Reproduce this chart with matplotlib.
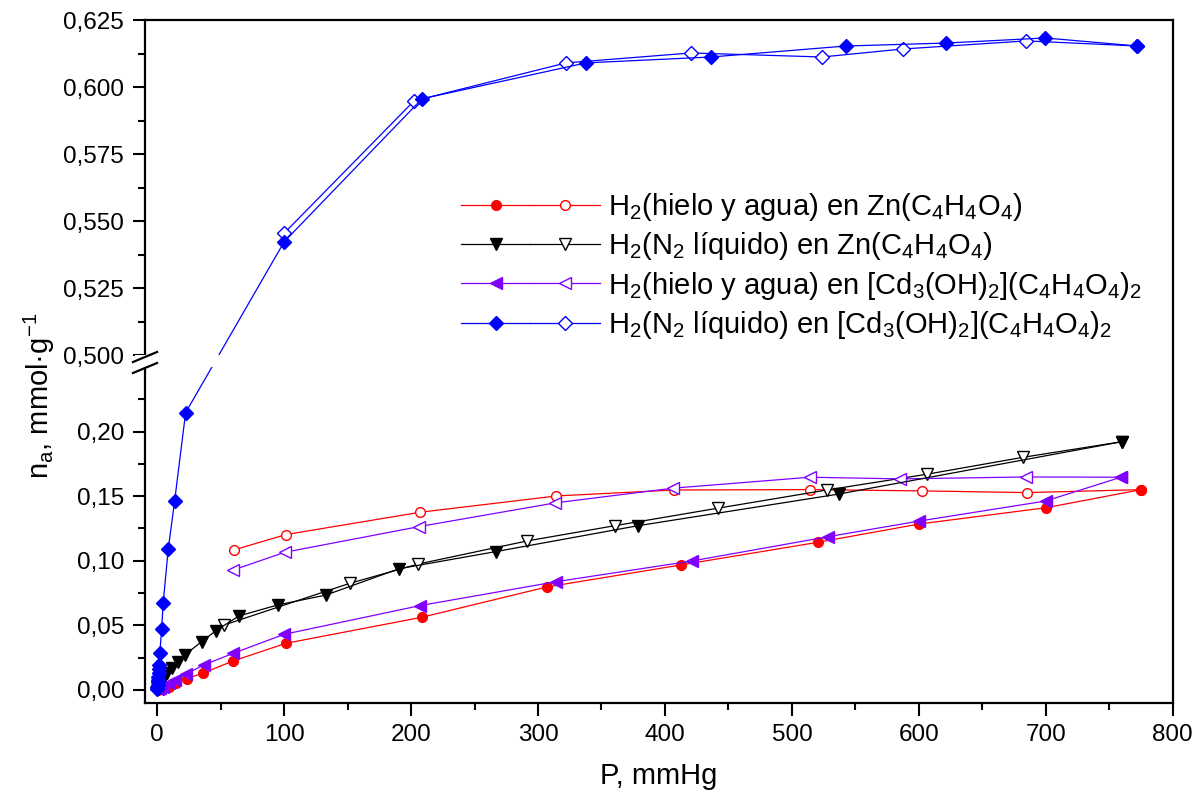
import numpy as np
import matplotlib
matplotlib.use("Agg")
import matplotlib.pyplot as plt
from matplotlib.lines import Line2D
from matplotlib.patches import Rectangle
from matplotlib.legend_handler import HandlerTuple
import matplotlib.transforms as mtransforms

plt.rcParams['font.family'] = ['Liberation Sans', 'DejaVu Sans']
plt.rcParams['mathtext.fontset'] = 'custom'
plt.rcParams['mathtext.rm'] = 'Liberation Sans'
plt.rcParams['mathtext.it'] = 'Liberation Sans:italic'
plt.rcParams['mathtext.bf'] = 'Liberation Sans:bold'

# H2 (hielo y agua) en Zn(C4H4O4): adsorcion / desorcion
zn_ice_ads_p = [0.3, 1.0, 2.0, 4.0, 9.5, 14.5, 23.2, 35.8, 60.0, 101.4, 208.6, 306.8, 412.7, 520.4, 600.5, 700.3, 775.2]
zn_ice_ads_n = [0.0003, 0.0006, 0.0010, 0.0016, 0.0026, 0.0052, 0.0088, 0.0129, 0.0225, 0.0361, 0.0563, 0.0797, 0.0968, 0.1143, 0.1285, 0.1411, 0.1551]
zn_ice_des_p = [775.2, 685.6, 602.8, 514.3, 407.1, 314.5, 207.3, 101.4, 60.4]
zn_ice_des_n = [0.1551, 0.1528, 0.1541, 0.1551, 0.1548, 0.1502, 0.1376, 0.1203, 0.1084]

# H2 (N2 liquido) en Zn(C4H4O4)
zn_n2_ads_p = [0.5, 1.5, 2.8, 4.7, 7.4, 11.8, 16.5, 21.8, 35.0, 46.3, 64.4, 94.9, 133.0, 190.7, 266.7, 379.0, 537.2, 760.0]
zn_n2_ads_n = [0.0010, 0.0030, 0.0055, 0.0083, 0.0129, 0.0168, 0.0219, 0.0271, 0.0374, 0.0459, 0.0573, 0.0658, 0.0735, 0.0939, 0.1071, 0.1272, 0.1517, 0.1922]
zn_n2_des_p = [760.0, 682.0, 606.3, 527.5, 441.6, 360.7, 291.6, 205.7, 151.9, 52.8]
zn_n2_des_n = [0.1922, 0.1801, 0.1670, 0.1548, 0.1407, 0.1272, 0.1154, 0.0975, 0.0826, 0.0503]

# H2 (hielo y agua) en [Cd3(OH)2](C4H4O4)2
cd_ice_ads_p = [0.3, 1.0, 2.0, 4.5, 9.0, 13.9, 22.4, 36.8, 60.0, 100.1, 207.0, 314.2, 421.6, 528.8, 600.5, 700.0, 759.2]
cd_ice_ads_n = [0.0004, 0.0008, 0.0013, 0.0025, 0.0050, 0.0077, 0.0122, 0.0194, 0.0284, 0.0431, 0.0653, 0.0838, 0.0999, 0.1187, 0.1308, 0.1463, 0.1647]
cd_ice_des_p = [759.2, 684.6, 585.3, 514.3, 406.1, 313.4, 206.5, 100.6, 60.0]
cd_ice_des_n = [0.1647, 0.1649, 0.1634, 0.1647, 0.1562, 0.1448, 0.1265, 0.1066, 0.0929]

# H2 (N2 liquido) en [Cd3(OH)2](C4H4O4)2
cd_n2_ads_p = [0.1, 0.2, 0.3, 0.5, 0.7, 0.9, 1.1, 1.3, 1.5, 2.1, 3.5, 4.7, 8.7, 13.7, 22.4, 100.1, 208.6, 337.8, 436.3, 542.7, 621.5, 699.5, 772.0]
cd_n2_ads_n = [0.0010, 0.0025, 0.0040, 0.0060, 0.0080, 0.0100, 0.0130, 0.0160, 0.0190, 0.0289, 0.0470, 0.0671, 0.1090, 0.1460, 0.2147, 0.5423, 0.5956, 0.6090, 0.6112, 0.6153, 0.6164, 0.6183, 0.6153]
cd_n2_des_p = [772.0, 684.6, 587.8, 523.8, 420.6, 322.1, 202.3, 100.1]
cd_n2_des_n = [0.6153, 0.6172, 0.6142, 0.6112, 0.6127, 0.6090, 0.5948, 0.5455]

labels = [r'H$_2$(hielo y agua) en Zn(C$_4$H$_4$O$_4$)',
          r'H$_2$(N$_2$ líquido) en Zn(C$_4$H$_4$O$_4$)',
          r'H$_2$(hielo y agua) en [Cd$_3$(OH)$_2$](C$_4$H$_4$O$_4$)$_2$',
          r'H$_2$(N$_2$ líquido) en [Cd$_3$(OH)$_2$](C$_4$H$_4$O$_4$)$_2$']

# broken y axis: lower part up to Y_LO, upper part from Y_HI
Y_LO, Y_HI = 0.25, 0.50
K = 2.075      # upper part stretched
GAP = 0.0093


def fwd(y):
    y = np.asarray(y, dtype=float)
    return np.where(y <= Y_LO, y,
                    np.where(y >= Y_HI, Y_LO + GAP + (y - Y_HI) * K,
                             Y_LO + (y - Y_LO) * GAP / (Y_HI - Y_LO)))


def inv(v):
    v = np.asarray(v, dtype=float)
    return np.where(v <= Y_LO, v,
                    np.where(v >= Y_LO + GAP, Y_HI + (v - Y_LO - GAP) / K,
                             Y_LO + (v - Y_LO) * (Y_HI - Y_LO) / GAP))


W, H = 1197, 795
fig = plt.figure(figsize=(W / 100, H / 100), dpi=100)
ax = fig.add_axes([145 / W, (H - 703) / H, (1172.7 - 145) / W, (703 - 20) / H])
ax.set_yscale('function', functions=(fwd, inv))

series = [
    (zn_ice_ads_p, zn_ice_ads_n, zn_ice_des_p, zn_ice_des_n, '#ff0000', 'o', 7),
    (zn_n2_ads_p, zn_n2_ads_n, zn_n2_des_p, zn_n2_des_n, '#000000', 'v', 8),
    (cd_ice_ads_p, cd_ice_ads_n, cd_ice_des_p, cd_ice_des_n, '#8000ff', '<', 8),
    (cd_n2_ads_p, cd_n2_ads_n, cd_n2_des_p, cd_n2_des_n, '#0000ff', 'D', 7.5),
]

handles = []
for ap, an, dp, dn, col, mk, ms in series:
    lo, = ax.plot(dp, dn, color=col, lw=0.9, marker=mk, ms=ms, mfc='white',
                  mec=col, mew=1.0, zorder=2)
    lf, = ax.plot(ap, an, color=col, lw=0.9, marker=mk, ms=ms, mfc=col,
                  mec=col, zorder=2.2)
    handles.append((lf, lo))

ax.set_xlim(-9.6, 800)
ax.set_ylim(-0.0101, 0.625)

low_ticks = [0.0, 0.05, 0.10, 0.15, 0.20]
up_ticks = [0.500, 0.525, 0.550, 0.575, 0.600, 0.625]
ax.set_yticks(low_ticks + up_ticks)
ax.set_yticklabels([f'{t:.2f}'.replace('.', ',') for t in low_ticks] +
                   [f'{t:.3f}'.replace('.', ',') for t in up_ticks])
ax.set_yticks([0.025, 0.075, 0.125, 0.175, 0.225,
               0.5125, 0.5375, 0.5625, 0.5875, 0.6125], minor=True)
ax.set_xticks(np.arange(0, 801, 100))
ax.set_xticks(np.arange(50, 800, 100), minor=True)

ax.tick_params(which='major', direction='out', length=9, width=1.5, labelsize=17.5,
               top=False, right=False, pad=6)
ax.tick_params(which='minor', direction='out', length=5, width=1.5,
               top=False, right=False)
for s in ax.spines.values():
    s.set_linewidth(1.6)

ax.set_xlabel('P, mmHg', fontsize=21, labelpad=12)
ax.set_ylabel(r'n$_\mathrm{a}$, mmol·g$^{-1}$', fontsize=21)
ax.yaxis.set_label_coords(-0.086, 0.45)

# hide the break region
bt = mtransforms.blended_transform_factory(ax.transAxes, ax.transData)
ax.add_patch(Rectangle((-0.01, Y_LO), 1.008, Y_HI - Y_LO, transform=bt,
                       facecolor='white', edgecolor='none', zorder=3,
                       clip_on=False))

# break marks on the left spine (figure pixel coordinates)
px = mtransforms.Affine2D().scale(1 / W, 1 / H) + fig.transFigure
for yc in (357, 368):
    fig.add_artist(Line2D([133, 157], [H - yc - 5, H - yc + 5],
                          transform=px, color='black', lw=1.6))

leg = ax.legend(handles, labels, handler_map={tuple: HandlerTuple(ndivide=None, pad=0)},
                loc='upper left', bbox_to_anchor=(461 / W, (H - 191) / H),
                bbox_transform=fig.transFigure, frameon=False, fontsize=21,
                handlelength=4.75, handletextpad=0.28, labelspacing=0.25,
                borderpad=0, borderaxespad=0, numpoints=1)

fig.savefig('out.png', dpi=100)
